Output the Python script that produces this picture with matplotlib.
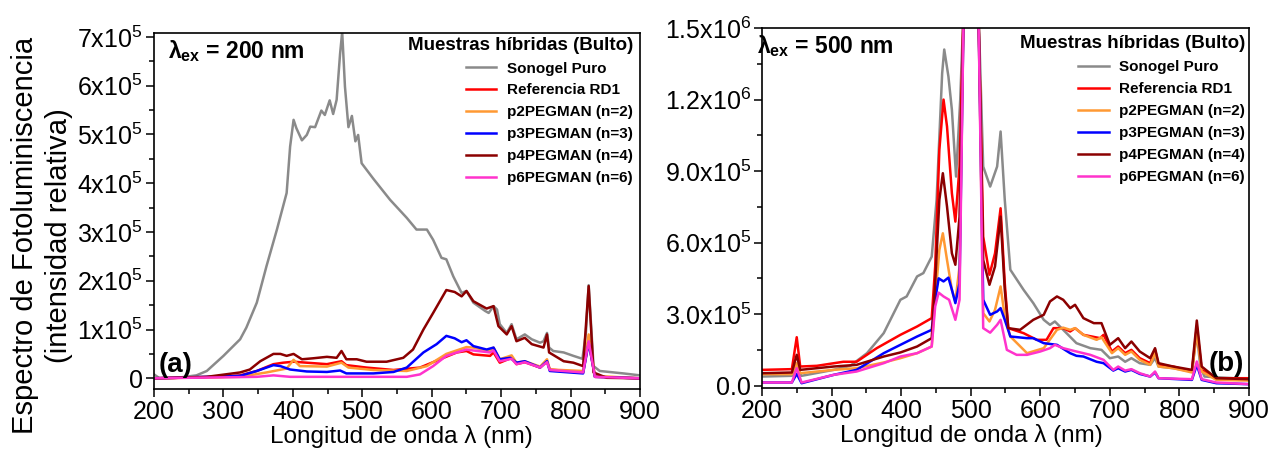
import matplotlib
matplotlib.use('Agg')
import matplotlib.pyplot as plt
from matplotlib.ticker import MultipleLocator

plt.rcParams['font.family'] = 'Liberation Sans'
plt.rcParams['mathtext.fontset'] = 'custom'
plt.rcParams['mathtext.rm'] = 'Liberation Sans'
plt.rcParams['mathtext.it'] = 'Liberation Sans:italic'
plt.rcParams['mathtext.bf'] = 'Liberation Sans:bold'

# ---- data (intensity in units of 1e5) ----
labels = ['Sonogel Puro', 'Referencia RD1', 'p2PEGMAN (n=2)',
          'p3PEGMAN (n=3)', 'p4PEGMAN (n=4)', 'p6PEGMAN (n=6)']
colors = ['#8a8a8a', '#ff0000', '#ff9933', '#0000ff', '#8b0000', '#ff33cc']

# panel (a): excitation 200 nm
a_sono_x = [200, 208, 228, 261, 276, 300, 324, 333, 348, 362, 377, 391, 396, 401, 405, 413, 420, 425,
            432, 441, 446, 453, 458, 463, 468, 471, 475, 480, 485, 490, 494, 499, 516, 540, 564, 578,
            593, 602, 614, 621, 631, 643, 650, 660, 677, 682, 689, 694, 698, 708, 715, 722, 734, 744,
            756, 761, 766, 769, 775, 790, 804, 817, 822, 826, 829, 833, 842, 876, 900]
a_sono_y = [0.08, 0.0, 0.0, 0.06, 0.15, 0.46, 0.8, 1.04, 1.55, 2.3, 3.05, 3.8, 4.75, 5.3, 5.13, 4.88, 4.99, 5.16,
            5.15, 5.49, 5.4, 5.7, 5.42, 5.71, 6.66, 7.1, 5.98, 5.15, 5.38, 4.86, 4.99, 4.41, 4.09, 3.66, 3.29, 3.05,
            3.05, 2.84, 2.47, 2.44, 2.09, 1.75, 1.79, 1.55, 1.38, 1.34, 1.48, 1.41, 1.11, 0.93, 1.11, 0.8, 0.9, 0.8,
            0.73, 0.76, 0.93, 0.63, 0.56, 0.53, 0.46, 0.4, 0.93, 1.91, 1.21, 0.25, 0.15, 0.1, 0.06]

a_rd1_x = [200, 300, 324, 348, 372, 386, 401, 420, 449, 470, 477, 506, 545, 583, 612, 636, 650, 660,
           684, 689, 698, 715, 722, 734, 756, 766, 770, 818, 826, 835, 900]
a_rd1_y = [0.0, 0.03, 0.06, 0.15, 0.29, 0.32, 0.34, 0.32, 0.29, 0.35, 0.27, 0.22, 0.17, 0.22, 0.39, 0.53, 0.56, 0.49,
           0.46, 0.53, 0.32, 0.42, 0.29, 0.33, 0.22, 0.35, 0.18, 0.12, 0.76, 0.03, 0.0]

a_p2_x = [200, 324, 362, 391, 401, 410, 449, 470, 480, 516, 564, 593, 621, 650, 660, 684, 689, 698,
          715, 722, 734, 756, 766, 770, 818, 826, 835, 900]
a_p2_y = [0.0, 0.03, 0.12, 0.2, 0.38, 0.25, 0.24, 0.32, 0.22, 0.17, 0.15, 0.25, 0.5, 0.64, 0.63, 0.56, 0.63, 0.39,
          0.47, 0.32, 0.35, 0.24, 0.39, 0.18, 0.15, 0.9, 0.05, 0.0]

a_p3_x = [200, 324, 348, 372, 382, 396, 420, 449, 468, 477, 516, 545, 564, 588, 607, 621, 633, 643,
          650, 660, 679, 689, 698, 713, 722, 734, 756, 766, 770, 818, 826, 835, 900]
a_p3_y = [0.0, 0.05, 0.15, 0.27, 0.25, 0.18, 0.14, 0.13, 0.16, 0.1, 0.1, 0.13, 0.22, 0.53, 0.7, 0.87, 0.82, 0.74,
          0.78, 0.66, 0.59, 0.63, 0.39, 0.42, 0.32, 0.35, 0.22, 0.35, 0.15, 0.1, 0.73, 0.03, 0.0]

a_p4_x = [200, 276, 324, 338, 353, 372, 382, 391, 401, 413, 429, 449, 463, 470, 477, 492, 506, 535,
          559, 573, 588, 602, 621, 633, 643, 650, 660, 679, 689, 696, 708, 715, 722, 734, 744, 761,
          766, 769, 790, 804, 818, 826, 833, 852, 900]
a_p4_y = [0.0, 0.03, 0.12, 0.18, 0.35, 0.5, 0.5, 0.46, 0.5, 0.39, 0.41, 0.44, 0.42, 0.56, 0.39, 0.39, 0.34, 0.34,
          0.42, 0.59, 1.0, 1.34, 1.81, 1.77, 1.68, 1.79, 1.58, 1.43, 1.48, 1.07, 0.9, 1.07, 0.76, 0.83, 0.7, 0.63,
          0.9, 0.53, 0.35, 0.32, 0.25, 1.89, 0.12, 0.01, 0.0]

a_p6_x = [200, 348, 372, 396, 564, 583, 602, 621, 636, 650, 660, 684, 689, 698, 715, 722, 734, 756,
          766, 770, 818, 826, 835, 900]
a_p6_y = [0.0, 0.03, 0.06, 0.03, 0.03, 0.08, 0.25, 0.46, 0.53, 0.59, 0.57, 0.53, 0.57, 0.35, 0.4, 0.29, 0.33, 0.22,
          0.33, 0.17, 0.12, 0.76, 0.03, 0.0]

# panel (b): excitation 500 nm
b_sono_x = [200, 243, 250, 257, 303, 327, 351, 375, 399, 408, 423, 432, 444, 451, 459, 462, 468, 473,
            479, 485, 490, 500, 511, 518, 528, 538, 543, 549, 557, 576, 590, 605, 614, 621, 633, 652,
            672, 688, 700, 712, 722, 731, 743, 758, 765, 770, 791, 818, 825, 830, 836, 900]
b_sono_y = [0.38, 0.41, 0.7, 0.41, 0.66, 0.83, 1.36, 2.2, 3.6, 3.74, 4.58, 4.72, 5.41, 7.79, 13.1, 14.1, 12.97, 11.57,
            8.77, 12.0, 16.0, 40.0, 16.0, 9.19, 8.35, 9.19, 10.66, 7.79, 4.86, 4.02, 3.46, 2.76, 2.55, 2.69, 2.34, 1.78,
            1.57, 1.5, 1.15, 1.22, 1.0, 1.15, 0.94, 0.87, 1.15, 0.8, 0.73, 0.59, 2.2, 0.8, 0.38, 0.27]

b_rd1_x = [200, 243, 250, 255, 279, 317, 336, 365, 399, 423, 444, 449, 455, 461, 466, 473, 478, 484,
           490, 500, 511, 518, 527, 535, 543, 549, 554, 576, 595, 609, 619, 633, 643, 650, 662, 686,
           691, 703, 712, 722, 731, 743, 758, 765, 770, 791, 818, 825, 832, 853, 900]
b_rd1_y = [0.66, 0.69, 2.03, 0.8, 0.83, 1.0, 1.0, 1.57, 2.13, 2.48, 2.83, 5.0, 9.9, 12.0, 10.87, 8.07, 6.88, 9.19,
           16.0, 40.0, 16.0, 6.25, 4.65, 5.55, 7.44, 4.3, 2.41, 2.2, 1.92, 1.92, 2.41, 2.41, 2.27, 2.41, 2.13, 1.99,
           2.13, 1.43, 1.64, 1.36, 1.5, 1.15, 0.94, 1.5, 0.87, 0.8, 0.59, 2.48, 0.66, 0.31, 0.31]

b_p2_x = [200, 243, 250, 255, 303, 336, 375, 399, 423, 444, 449, 455, 460, 466, 473, 478, 484, 490,
          500, 511, 518, 527, 535, 543, 549, 557, 581, 605, 624, 633, 643, 650, 662, 681, 688, 703,
          712, 722, 731, 743, 758, 765, 770, 791, 818, 825, 832, 853, 900]
b_p2_y = [0.48, 0.48, 0.94, 0.52, 0.66, 0.73, 0.97, 1.15, 1.36, 1.64, 3.6, 5.69, 6.39, 5.27, 4.02, 3.53, 5.0, 16.0,
          40.0, 16.0, 3.04, 2.69, 3.18, 4.16, 2.9, 2.06, 1.36, 1.57, 2.34, 2.43, 2.34, 2.41, 2.13, 1.92, 2.03, 1.36,
          1.57, 1.29, 1.43, 1.08, 0.87, 1.36, 0.8, 0.73, 0.55, 2.27, 0.59, 0.24, 0.21]

b_p3_x = [200, 243, 250, 257, 303, 336, 375, 399, 423, 444, 449, 454, 461, 468, 473, 478, 484, 490,
          500, 511, 518, 528, 538, 543, 549, 557, 581, 590, 605, 624, 643, 652, 662, 681, 691, 705,
          712, 722, 731, 743, 758, 765, 770, 818, 825, 832, 853, 900]
b_p3_y = [0.13, 0.13, 0.49, 0.1, 0.45, 0.66, 1.36, 1.71, 2.06, 2.34, 3.6, 4.5, 4.37, 4.53, 4.02, 3.46, 4.3, 16.0,
          40.0, 16.0, 3.6, 2.97, 3.11, 3.25, 2.76, 2.06, 1.99, 1.99, 1.78, 1.71, 1.36, 1.25, 1.22, 1.0, 0.94, 0.63,
          0.73, 0.59, 0.66, 0.49, 0.38, 0.55, 0.31, 0.24, 0.87, 0.24, 0.1, 0.06]

b_p4_x = [200, 243, 250, 255, 303, 336, 375, 399, 423, 444, 449, 455, 460, 466, 473, 478, 484, 490,
          500, 511, 518, 527, 535, 543, 549, 554, 571, 590, 605, 614, 624, 633, 643, 650, 662, 677,
          688, 700, 712, 722, 731, 743, 758, 765, 770, 791, 818, 825, 832, 853, 900]
b_p4_y = [0.52, 0.55, 1.29, 0.66, 0.8, 0.87, 1.22, 1.39, 1.64, 1.99, 4.3, 7.79, 8.91, 7.51, 5.55, 5.07, 7.09, 16.0,
          40.0, 16.0, 5.27, 4.23, 5.0, 7.09, 4.02, 2.41, 2.34, 2.76, 2.97, 3.53, 3.74, 3.6, 3.25, 3.39, 2.83, 2.62,
          2.62, 1.71, 1.99, 1.57, 1.85, 1.43, 1.15, 1.57, 0.94, 0.8, 0.66, 2.73, 0.8, 0.31, 0.27]

b_p6_x = [200, 243, 250, 257, 303, 336, 375, 399, 423, 444, 449, 454, 461, 469, 478, 484, 490, 500,
          511, 518, 528, 538, 543, 552, 566, 581, 600, 614, 621, 633, 652, 672, 691, 705, 712, 722,
          731, 743, 758, 765, 770, 818, 825, 832, 853, 900]
b_p6_y = [0.13, 0.13, 0.73, 0.13, 0.45, 0.59, 0.94, 1.22, 1.36, 1.64, 3.32, 3.9, 3.74, 3.6, 2.76, 3.6, 16.0, 40.0,
          16.0, 2.41, 2.22, 2.55, 2.76, 1.5, 1.29, 1.29, 1.43, 1.57, 1.71, 1.57, 1.43, 1.29, 1.08, 0.66, 0.8, 0.63,
          0.69, 0.52, 0.38, 0.59, 0.31, 0.27, 1.01, 0.27, 0.13, 0.06]

a_series = [(a_sono_x, a_sono_y), (a_rd1_x, a_rd1_y), (a_p2_x, a_p2_y),
            (a_p3_x, a_p3_y), (a_p4_x, a_p4_y), (a_p6_x, a_p6_y)]
b_series = [(b_sono_x, b_sono_y), (b_rd1_x, b_rd1_y), (b_p2_x, b_p2_y),
            (b_p3_x, b_p3_y), (b_p4_x, b_p4_y), (b_p6_x, b_p6_y)]

a_yticks = [0, 1e5, 2e5, 3e5, 4e5, 5e5, 6e5, 7e5]
a_yticklabels = ['0', '1x10$^5$', '2x10$^5$', '3x10$^5$', '4x10$^5$', '5x10$^5$', '6x10$^5$', '7x10$^5$']
b_yticks = [0, 3e5, 6e5, 9e5, 1.2e6, 1.5e6]
b_yticklabels = ['0.0', '3.0x10$^5$', '6.0x10$^5$', '9.0x10$^5$', '1.2x10$^6$', '1.5x10$^6$']
xticks = [200, 300, 400, 500, 600, 700, 800, 900]

fig = plt.figure(figsize=(12.75, 4.55), dpi=100)
ax1 = fig.add_axes([0.1208, 0.145, 0.3812, 0.7824])
ax2 = fig.add_axes([0.5976, 0.1473, 0.382, 0.791])


def draw(ax, series, yticks, yticklabels, ylim, yminor, exc, tag, leg_anchor, exc_x, xlab_x):
    for (x, y), c, lab in zip(series, colors, labels):
        ax.plot(x, [v * 1e5 for v in y], color=c, lw=1.8, label=lab)
    ax.set_xlim(200, 900)
    ax.set_ylim(*ylim)
    ax.set_xticks(xticks)
    ax.xaxis.set_minor_locator(MultipleLocator(50))
    ax.set_yticks(yticks)
    ax.set_yticklabels(yticklabels)
    ax.yaxis.set_minor_locator(MultipleLocator(yminor))
    ax.tick_params(which='both', direction='out', top=False, right=False, labelsize=18, width=1.1)
    ax.tick_params(which='major', length=6, pad=2)
    ax.tick_params(which='minor', length=3.5)
    for s in ax.spines.values():
        s.set_linewidth(1.2)
    ax.set_xlabel('Longitud de onda λ (nm)', fontsize=17.5)
    ax.xaxis.set_label_coords(xlab_x, -0.1)
    ax.text(exc_x, 0.985, 'λ$_{\\mathbf{ex}}$ = %d nm' % exc, transform=ax.transAxes,
            fontsize=16.5, fontweight='bold', ha='left', va='top')
    ax.text(0.99 if tag == '(b)' else 0.01, 0.03, tag, transform=ax.transAxes,
            fontsize=20, fontweight='bold', ha='right' if tag == '(b)' else 'left', va='bottom')
    ax.legend(loc='upper right', bbox_to_anchor=leg_anchor, frameon=False,
              title='Muestras híbridas (Bulto)', alignment='right',
              title_fontproperties={'weight': 'bold', 'size': 13.5},
              prop={'weight': 'bold', 'size': 11},
              handlelength=2.0, handletextpad=0.7, labelspacing=0.52,
              borderpad=0, borderaxespad=0)


draw(ax1, a_series, a_yticks, a_yticklabels, (-2.2e4, 7.08e5), 5e4, 200, '(a)',
     (0.985, 0.99), 0.028, 0.508)
draw(ax2, b_series, b_yticks, b_yticklabels, (-1e4, 1.5e6), 1.5e5, 500, '(b)',
     (0.992, 0.98), -0.01, 0.431)

fig.text(0.033, 0.483, 'Espectro de Fotoluminiscencia\n(intensidad relativa)',
         rotation=90, ha='center', va='center', multialignment='center',
         fontsize=21, linespacing=1.25)

fig.savefig('out.png', dpi=100)
